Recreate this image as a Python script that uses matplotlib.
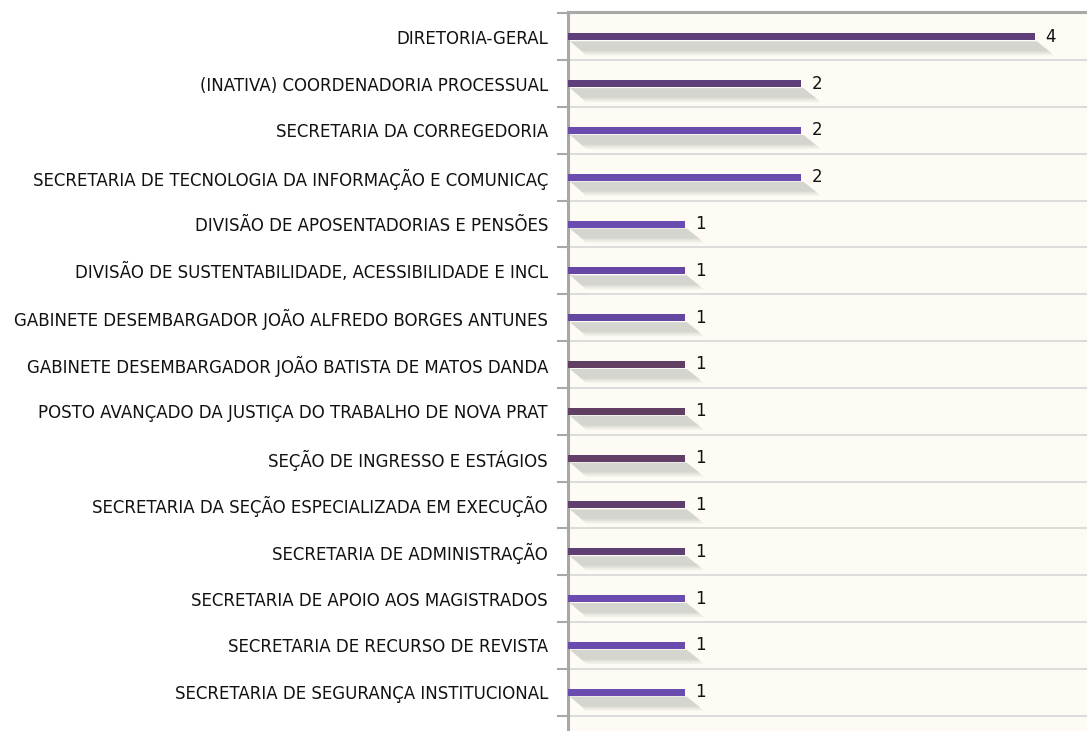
"""
Horizontal bar chart: count per unit, with soft drop shadows.
Writes out.png (1087x731).
"""
import matplotlib
matplotlib.use("Agg")
import matplotlib.pyplot as plt
from matplotlib.patches import Polygon
import numpy as np

units = [
    "DIRETORIA-GERAL",
    "(INATIVA) COORDENADORIA PROCESSUAL",
    "SECRETARIA DA CORREGEDORIA",
    "SECRETARIA DE TECNOLOGIA DA INFORMAÇÃO E COMUNICAÇ",
    "DIVISÃO DE APOSENTADORIAS E PENSÕES",
    "DIVISÃO DE SUSTENTABILIDADE, ACESSIBILIDADE E INCL",
    "GABINETE DESEMBARGADOR JOÃO ALFREDO BORGES ANTUNES",
    "GABINETE DESEMBARGADOR JOÃO BATISTA DE MATOS DANDA",
    "POSTO AVANÇADO DA JUSTIÇA DO TRABALHO DE NOVA PRAT",
    "SEÇÃO DE INGRESSO E ESTÁGIOS",
    "SECRETARIA DA SEÇÃO ESPECIALIZADA EM EXECUÇÃO",
    "SECRETARIA DE ADMINISTRAÇÃO",
    "SECRETARIA DE APOIO AOS MAGISTRADOS",
    "SECRETARIA DE RECURSO DE REVISTA",
    "SECRETARIA DE SEGURANÇA INSTITUCIONAL",
]
counts = [4, 2, 2, 2, 1, 1, 1, 1, 1, 1, 1, 1, 1, 1, 1]

BAR_COLORS = [
    "#5F3F7A", "#5F3F7A", "#6A4BAE", "#6A4BAE", "#6A4BAE",
    "#6648A4", "#6448A0", "#603F62", "#603F62", "#613F66",
    "#603F6E", "#5F3F72", "#6A4BAE", "#6A4BAE", "#6A4BAE",
]
PAPER = "#FDFBF3"
SPINE = "#A8A8A8"
GRID = "#D6D6D6"
FS = 12

W, H, DPI = 1087, 731, 100
fig = plt.figure(figsize=(W / DPI, H / DPI), dpi=DPI, facecolor="white")
ax = fig.add_axes([568 / W, 0, 1 - 568 / W, 1 - 12 / H])
ax.set_facecolor(PAPER)

n = len(units)
y = np.arange(n)
xmax = (1087 - 568) / 116.7
ax.set_xlim(0, xmax)
ax.set_ylim(14.83, -0.53)

# data units per pixel, for the shadow geometry
px_x = xmax / (W - 568)
px_y = 1 / 46.8

bar_h = 7 * px_y
for yi, v, c in zip(y, counts, BAR_COLORS):
    # soft shadow: a few stacked parallelograms
    for k, a in enumerate([0.12, 0.14, 0.18]):
        grow = (2 - k) * 2
        top = yi + bar_h / 2 + 1 * px_y
        bot = yi + bar_h / 2 + (11 + grow) * px_y
        xl0 = 2 * px_x
        xl1 = (14 + grow) * px_x
        xr0 = v + 2 * px_x
        xr1 = v + (15 + grow) * px_x
        ax.add_patch(Polygon([(xl0, top), (xr0, top), (xr1, bot), (xl1, bot)],
                             closed=True, facecolor="#9A9A9A", edgecolor="none",
                             alpha=a, zorder=2))
    ax.barh(yi, v, height=bar_h, color=c, edgecolor="none", zorder=3)
    ax.text(v + 10 * px_x, yi, str(v), va="center", ha="left",
            fontsize=FS, color="#111111", zorder=4)

ax.set_yticks(y)
ax.set_yticklabels(units, fontsize=FS, color="#111111")
ax.tick_params(axis="y", which="major", length=0, pad=14.4)
ax.set_yticks(np.arange(-0.5, n, 1.0), minor=True)
ax.tick_params(axis="y", which="minor", length=8, width=1.5, color=SPINE,
               direction="out")
ax.set_xticks([])
ax.grid(True, axis="y", which="minor", color=GRID, lw=1.2, zorder=1)
ax.grid(False, which="major")

for side in ["right", "bottom"]:
    ax.spines[side].set_visible(False)
ax.spines["left"].set_color(SPINE)
ax.spines["left"].set_linewidth(2.2)
ax.spines["top"].set_color(SPINE)
ax.spines["top"].set_linewidth(2.2)

fig.savefig("out.png", dpi=DPI, facecolor="white")
